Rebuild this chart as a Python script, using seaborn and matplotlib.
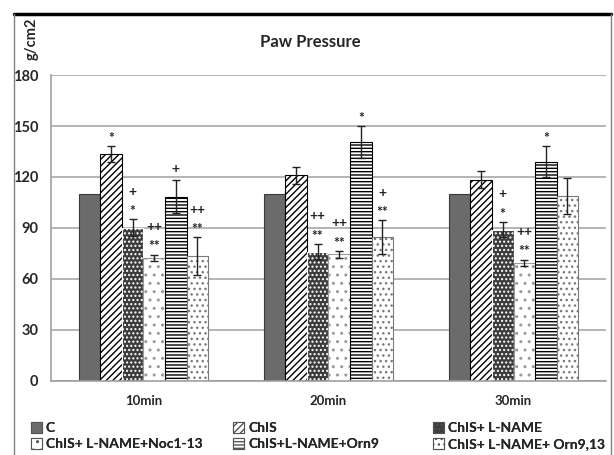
import numpy as np
import pandas as pd
import seaborn as sns
import matplotlib.pyplot as plt
from matplotlib.patches import Patch
from matplotlib.lines import Line2D

# values
times = ['10min', '20min', '30min']
groups = ['C', 'ChIS', 'ChIS+ L-NAME', 'ChIS+ L-NAME+Noc1-13',
          'ChIS+L-NAME+Orn9', 'ChIS+ L-NAME+ Orn9,13']

c_vals = [110, 110, 110]
chis_vals = [133.5, 121, 118.5]
lname_vals = [90, 76, 89]
noc_vals = [72.5, 74.5, 69.5]
orn9_vals = [108.5, 140.5, 129]
orn913_vals = [73.5, 84.5, 109]

c_err = [0, 0, 0]
chis_err = [4.5, 5, 5]
lname_err = [5, 4.5, 4.5]
noc_err = [1.8, 2, 1.8]
orn9_err = [9.5, 9.5, 9]
orn913_err = [11, 10, 10.5]

c_sig = ['', '', '']
chis_sig = ['*', '', '']
lname_sig = ['+\n*', '++\n**', '+\n*']
noc_sig = ['++\n**', '++\n**', '++\n**']
orn9_sig = ['+', '*', '*']
orn913_sig = ['++\n**', '+\n**', '']

all_vals = [c_vals, chis_vals, lname_vals, noc_vals, orn9_vals, orn913_vals]
all_err = [c_err, chis_err, lname_err, noc_err, orn9_err, orn913_err]
all_sig = [c_sig, chis_sig, lname_sig, noc_sig, orn9_sig, orn913_sig]

rows = []
for g, vals in zip(groups, all_vals):
    for t, v in zip(times, vals):
        rows.append({'time': t, 'group': g, 'value': v})
df = pd.DataFrame(rows)

# bar looks: face, hatch, hatch colour
faces = ['#6b6b6b', 'white', '#3c3c3c', 'white', 'white', 'white']
hatches = ['', '/////', '....', '..', '-----', '...']
hatch_cols = ['#3a3a3a', 'black', 'white', '#9a9a9a', 'black', '#7a7a7a']

sns.set_style('white')
plt.rcParams['font.family'] = ['Lato', 'DejaVu Sans']
plt.rcParams['hatch.linewidth'] = 1.0

fig = plt.figure(figsize=(6.14, 4.55), dpi=100)
ax = fig.add_axes([0.083, 0.163, 0.904, 0.672])

sns.barplot(data=df, x='time', y='value', hue='group', hue_order=groups,
            width=0.7, errorbar=None, saturation=1, legend=False, ax=ax)

bar_conts = list(ax.containers)
for i, cont in enumerate(bar_conts):
    for j, bar in enumerate(cont):
        bar.set_facecolor(faces[i])
        bar.set_hatch(hatches[i])
        if hasattr(bar, 'set_hatchcolor'):
            bar.set_hatchcolor(hatch_cols[i])
            bar.set_edgecolor('black' if i else '#5a5a5a')
        else:
            bar.set_edgecolor(hatch_cols[i])
        bar.set_linewidth(0.8)
        x = bar.get_x() + bar.get_width() / 2
        top = bar.get_height()
        err = all_err[i][j]
        if err > 0:
            ax.errorbar(x, top, yerr=err, fmt='none', ecolor='#222222',
                        elinewidth=1, capsize=3, capthick=1, zorder=4)
        if all_sig[i][j]:
            # lines from the bottom up: closest line first
            lines = all_sig[i][j].split('\n')[::-1]
            for k, s in enumerate(lines):
                off = 2.5 if s.startswith('*') else 4.5
                ax.text(x, top + err + off + 9.5 * k, s, ha='center',
                        va='baseline', fontsize=10, fontweight='bold',
                        color='#222222')

ax.set_ylim(0, 180)
ax.set_xlim(-0.5, 2.5)
ax.set_yticks(range(0, 181, 30))
ax.yaxis.grid(True, color='#b4b4b4', linewidth=1.4)
ax.set_axisbelow(True)
for s in ['top', 'right']:
    ax.spines[s].set_visible(False)
ax.spines['left'].set_color('#a0a0a0')
ax.spines['bottom'].set_color('#a0a0a0')
ax.spines['left'].set_linewidth(1.2)
ax.spines['bottom'].set_linewidth(1.2)
ax.set_xticks([-0.5, 0.5, 1.5, 2.5], minor=True)
ax.tick_params(axis='x', which='minor', length=4, color='#a0a0a0', direction='out')
ax.tick_params(axis='x', which='major', length=0, pad=10)
ax.tick_params(axis='y', length=5, color='#a0a0a0', pad=4)
for lab in ax.get_xticklabels():
    lab.set_fontweight('bold')
    lab.set_fontsize(9.5)
for lab in ax.get_yticklabels():
    lab.set_fontweight('bold')
    lab.set_fontsize(10.5)
ax.set_xlabel('')
ax.set_ylabel('')

fig.text(0.505, 0.907, 'Paw Pressure', ha='center', va='center',
         fontsize=12, fontweight='bold')
fig.text(0.052, 0.914, 'g/cm2', rotation=90, ha='center', va='center',
         fontsize=10.5, fontweight='bold')

handles = [Patch(facecolor=faces[i], edgecolor='#555555', hatch=hatches[i],
                 linewidth=0.8) for i in range(6)]
# one legend per column so the columns sit at even places
col_x = [0.050, 0.380, 0.705]
for c in range(3):
    leg = fig.legend([handles[c], handles[c + 3]], [groups[c], groups[c + 3]],
                     ncol=1, loc='lower left', bbox_to_anchor=(col_x[c], 0.01),
                     frameon=False, prop={'weight': 'bold', 'size': 10},
                     handlelength=0.8, handleheight=0.8, handletextpad=0.3,
                     labelspacing=0.3, borderaxespad=0, borderpad=0)
    fig.add_artist(leg)

# outer frame of the original picture
fig.add_artist(Line2D([14 / 614, 611 / 614], [1 - 14 / 455, 1 - 14 / 455],
                      color='black', linewidth=2.5, transform=fig.transFigure))
fig.add_artist(Line2D([14 / 614, 14 / 614], [0, 1 - 14 / 455],
                      color='#808080', linewidth=1, transform=fig.transFigure))
fig.add_artist(Line2D([611 / 614, 611 / 614], [0, 1 - 14 / 455],
                      color='#808080', linewidth=1, transform=fig.transFigure))

fig.savefig('out.png', dpi=100)
